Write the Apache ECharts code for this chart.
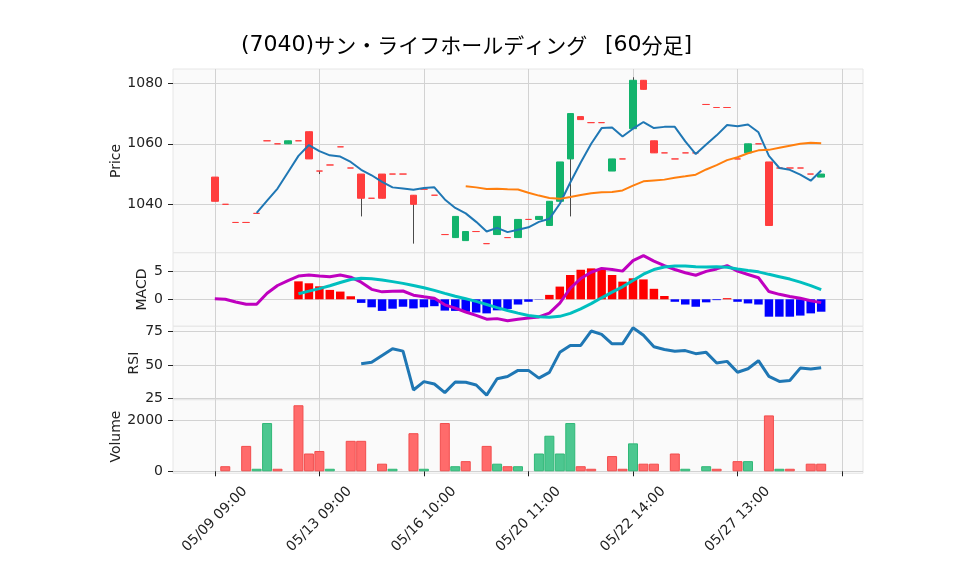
<!DOCTYPE html>
<html>
<head>
<meta charset="utf-8">
<script src="https://cdn.jsdelivr.net/npm/echarts@6/dist/echarts.min.js"></script>
<style>
html, body { margin: 0; padding: 0; background: #fff; }
#chart { width: 958px; height: 575px; }
</style>
</head>
<body>
<div id="chart"></div>
<script>
// 60-minute bars
const times = [
  '05/09 09:00','05/09 10:00','05/09 11:00','05/09 13:00','05/09 14:00',
  '05/10 09:00','05/10 10:00','05/10 11:00','05/10 13:00','05/10 14:00',
  '05/13 09:00','05/13 10:00','05/13 11:00','05/13 13:00','05/13 14:00',
  '05/14 09:00','05/14 10:00','05/14 13:00',
  '05/15 09:00','05/15 14:00',
  '05/16 10:00','05/16 11:00','05/16 13:00','05/16 14:00',
  '05/17 09:00','05/17 10:00','05/17 11:00','05/17 13:00','05/17 14:00',
  '05/20 09:00','05/20 11:00','05/20 13:00','05/20 14:00',
  '05/21 09:00','05/21 10:00','05/21 11:00','05/21 13:00','05/21 14:00',
  '05/22 09:00','05/22 10:00','05/22 14:00',
  '05/23 09:00','05/23 10:00','05/23 11:00','05/23 13:00','05/23 14:00',
  '05/24 09:00','05/24 10:00','05/24 13:00','05/24 14:00',
  '05/27 13:00','05/27 14:00',
  '05/28 09:00','05/28 10:00','05/28 11:00','05/28 13:00','05/28 14:00',
  '05/29 09:00','05/29 10:00'
]
const opens = [1049,1040,1034,1034,1037,1061,1060,1060,1061,1064,1051,1053,1059,1052,1050,1042,1050,1050,1050,1043,
  1045,1043,1030,1029,1028,1031,1027,1030,1029,1029,1035,1035,1033,1041,1055,1069,1067,1067,1051,1055,
  1065,1081,1061,1057,1055,1057,1057,1073,1072,1072,1055,1057,1060,1054,1052,1052,1052,1050,1049]
const closes = [1041,1040,1034,1034,1037,1061,1060,1061,1061,1055,1051,1053,1059,1052,1042,1042,1042,1050,1050,1040,
  1045,1043,1030,1036,1031,1031,1027,1036,1029,1035,1035,1036,1041,1054,1070,1068,1067,1067,1055,1055,
  1081,1078,1057,1057,1055,1057,1057,1073,1072,1072,1055,1060,1060,1033,1052,1052,1052,1050,1050]
const lows = [1041,1040,1034,1034,1037,1061,1060,1060,1061,1055,1050,1053,1059,1052,1036,1042,1042,1050,1050,1027,
  1045,1043,1030,1029,1028,1031,1027,1030,1029,1029,1035,1035,1033,1041,1036,1068,1067,1067,1051,1055,
  1065,1078,1057,1057,1055,1057,1057,1073,1072,1072,1055,1057,1060,1033,1052,1052,1052,1050,1049]
const highs = [1049,1040,1034,1034,1037,1061,1060,1061,1061,1064,1051,1053,1059,1052,1050,1042,1050,1050,1050,1043,
  1045,1043,1030,1036,1031,1031,1027,1036,1029,1035,1035,1036,1041,1054,1070,1069,1067,1067,1055,1055,
  1082,1081,1061,1057,1055,1057,1057,1073,1072,1072,1055,1060,1060,1054,1052,1052,1052,1050,1050]
const volumes = [0,200,0,1000,100,1900,100,0,2600,700,800,100,0,1200,1200,0,300,100,0,1500,
  100,0,1900,200,400,0,1000,300,200,200,0,700,1400,700,1900,200,100,0,600,100,
  1100,300,300,0,700,100,0,200,100,0,400,400,0,2200,100,100,0,300,300]
const ma5 = [null,null,null,null,1037.2,1041.2,1045.2,1050.6,1056.0,1059.6,1057.6,1056.2,1055.8,1054.0,1051.4,
  1049.6,1047.4,1045.6,1045.2,1044.8,1045.4,1045.6,1041.6,1038.8,1037.0,1034.2,1031.0,1032.2,1030.8,1031.6,
  1032.4,1034.2,1035.2,1040.2,1047.2,1053.8,1060.0,1065.2,1065.4,1062.4,1065.0,1067.2,1065.2,1065.6,1065.6,
  1060.8,1056.6,1059.8,1062.8,1066.2,1065.8,1066.4,1063.8,1056.0,1052.0,1051.4,1049.8,1047.8,1051.2]
const ma25 = [null,null,null,null,null,null,null,null,null,null,null,null,null,null,null,null,null,null,null,null,
  null,null,null,null,1046.0,1045.6,1045.08,1045.16,1044.96,1044.88,1043.84,1042.88,1042.08,1041.8,1042.4,
  1043.08,1043.64,1043.96,1044.08,1044.6,1046.16,1047.6,1047.88,1048.16,1048.76,1049.24,1049.8,1051.52,
  1052.96,1054.6,1055.56,1056.88,1057.84,1058.0,1058.68,1059.36,1060.0,1060.36,1060.2]
const macd = [0.1,0.0,-0.5,-0.9,-0.9,1.1,2.5,3.4,4.2,4.4,4.2,4.1,4.4,4.0,3.1,1.8,1.35,1.45,1.5,0.75,
  0.45,0.2,-1.0,-1.6,-2.3,-2.9,-3.6,-3.5,-3.9,-3.6,-3.4,-3.2,-2.5,-0.7,2.0,3.75,4.9,5.6,5.4,5.1,
  7.0,7.9,6.9,6.1,5.4,4.8,4.35,5.05,5.5,6.1,5.1,4.5,3.9,1.4,0.9,0.5,0.2,-0.25,-0.6]
const signal = [null,null,null,null,null,null,null,null,1.0,1.48,1.94,2.46,3.04,3.59,3.81,3.73,3.51,3.2,2.88,2.49,
  2.09,1.62,1.07,0.54,0.09,-0.38,-0.94,-1.5,-2.03,-2.5,-2.92,-3.17,-3.27,-3.09,-2.54,-1.73,-0.79,0.27,1.29,2.26,
  3.39,4.55,5.39,5.85,6.03,6.02,5.88,5.84,5.89,5.79,5.48,5.21,4.97,4.52,4.09,3.66,3.12,2.48,1.74]
const hist = [null,null,null,null,null,null,null,null,3.25,2.9,2.35,1.7,1.4,0.55,-0.65,-1.45,-2.1,-1.7,-1.35,-1.65,
  -1.45,-1.25,-2.05,-2.1,-2.25,-2.4,-2.55,-2.0,-1.75,-0.95,-0.45,-0.05,0.8,2.3,4.4,5.35,5.6,5.35,4.4,3.2,
  3.8,3.6,1.9,0.6,-0.45,-0.95,-1.35,-0.55,-0.15,0.2,-0.45,-0.75,-0.95,-3.15,-3.15,-3.15,-2.95,-2.55,-2.25]
const rsi = [null,null,null,null,null,null,null,null,null,null,null,null,null,null,51.0,52.0,57.0,62.0,60.3,31.5,
  37.7,35.9,29.5,37.4,37.2,35.2,27.7,39.8,41.5,46.0,46.0,40.3,44.5,59.4,64.5,64.5,75.2,72.7,65.7,65.7,
  77.6,72.0,63.5,61.5,60.2,60.7,58.4,59.4,51.5,52.7,44.6,47.2,53.2,41.6,37.8,38.5,47.7,47.0,48.0]

const priceTicks = [1040, 1060, 1080]
const macdTicks = [0, 5]
const rsiTicks = [25, 50, 75]
const volTicks = [0, 2000]

// latin and kana parts of the title, set in their own fonts
const titleParts = [['l', '(7040)'], ['j', 'サン・ライフホールディング'], ['s', '  '], ['l', '[60'], ['j', '分足'], ['l', ']']]

const UP = '#12b36c', DOWN = '#ff3d3d'
const VUP = '#4cc790', VUPB = '#30b877', VDOWN = '#ff6b6b', VDOWNB = '#f24d4d'

// empty slots either side so bar 0 and the right edge sit where matplotlib put them
const PAD = 4
const cats = [
  ...[0, 1, 2, 3].map(j => ' '.repeat(j + 1)),
  ...times,
  ...[4, 5, 6, 7].map(j => ' '.repeat(j + 1))
]
const k = i => i + PAD
const major = idx => idx >= PAD && (idx - PAD) % 10 === 0

const edges = [69, 252.8, 326.3, 399.8, 473.3]
const grids = [0, 1, 2, 3].map(g => ({
  left: 173, right: 95, top: edges[g], height: edges[g + 1] - edges[g],
  show: true, backgroundColor: '#fafafa', borderColor: '#e6e6e6', borderWidth: 1,
  outerBoundsMode: 'none'
}))

const font = { fontFamily: 'DejaVu Sans', fontSize: 14, color: '#222' }
const gridLine = { show: true, lineStyle: { color: '#d2d2d2', width: 1 } }

const xAxes = [0, 1, 2, 3].map(g => ({
  type: 'category', gridIndex: g, data: cats, boundaryGap: false,
  axisLine: { show: false },
  axisTick: { show: g === 3, interval: major, length: 5, lineStyle: { color: '#222' } },
  axisLabel: {
    show: g === 3, interval: major, rotate: 45, align: 'center', verticalAlign: 'middle',
    margin: 46, ...font
  },
  splitLine: { ...gridLine, interval: major }
}))

function yAxisOf(g, min, max, ticks, name, gap) {
  return {
    type: 'value', gridIndex: g, min, max, name, nameLocation: 'middle', nameGap: gap,
    nameMoveOverlap: false,
    nameTextStyle: font,
    axisLine: { show: false },
    axisTick: { show: true, length: 5, lineStyle: { color: '#222' }, customValues: ticks },
    axisLabel: { ...font, margin: 10, customValues: ticks, formatter: v => String(v) },
    splitLine: gridLine
  }
}

const yAxes = [
  yAxisOf(0, 1023.97, 1084.73, priceTicks, 'Price', 50),
  yAxisOf(1, -4.89, 8.42, macdTicks, 'MACD', 24),
  yAxisOf(2, 24.2, 78.7, rsiTicks, 'RSI', 32),
  yAxisOf(3, -79, 2815, volTicks, 'Volume', 50)
]

const pairs = arr => arr.map((v, i) => [k(i), v]).filter(p => p[1] != null)

const bodies = times.map((t, i) => {
  const c = closes[i] > opens[i] ? UP : DOWN
  return {
    value: [k(i), opens[i], closes[i], Math.min(opens[i], closes[i]), Math.max(opens[i], closes[i])],
    itemStyle: { color: c, color0: c, borderColor: c, borderColor0: c, borderColorDoji: c, borderWidth: 1 }
  }
})

const volBars = times.map((t, i) => {
  const up = i > 0 && closes[i] > closes[i - 1]
  return {
    value: [k(i), volumes[i]],
    itemStyle: { color: up ? VUP : VDOWN, borderColor: up ? VUPB : VDOWNB, borderWidth: 1 }
  }
}).filter(d => d.value[1] > 0)

const histBars = hist.map((v, i) => v == null ? null : {
  value: [k(i), v], itemStyle: { color: v >= 0 ? '#ff0000' : '#0000ff' }
}).filter(d => d)

const line = (xi, data, color, width) => ({
  type: 'line', xAxisIndex: xi, yAxisIndex: xi, data: pairs(data),
  symbol: 'none', lineStyle: { color, width }, itemStyle: { color }
})

const tok = (family, size) => ({ fontFamily: family, fontSize: size, lineHeight: 26, color: '#000', verticalAlign: 'middle' })

const chart = echarts.init(document.getElementById('chart'))
chart.setOption({
  animation: false,
  backgroundColor: '#fff',
  title: {
    text: titleParts.map(p => '{' + p[0] + '|' + p[1] + '}').join(''),
    left: 241, top: 32, padding: 0,
    textStyle: {
      color: '#000', fontWeight: 'normal', lineHeight: 26,
      rich: {
        l: tok('DejaVu Sans', 22),
        j: tok('Noto Sans CJK JP', 21),
        s: tok('DejaVu Sans', 28)
      }
    }
  },
  grid: grids,
  xAxis: xAxes,
  yAxis: yAxes,
  series: [
    {
      type: 'custom', xAxisIndex: 0, yAxisIndex: 0,
      data: times.map((t, i) => [k(i), lows[i], highs[i]]),
      encode: { x: 0, y: [1, 2] },
      renderItem: (params, api) => {
        const a = api.coord([api.value(0), api.value(1)])
        const b = api.coord([api.value(0), api.value(2)])
        const x = Math.round(a[0]) + 0.5
        return { type: 'line', shape: { x1: x, y1: a[1], x2: x, y2: b[1] }, style: { stroke: '#4a4a4a', lineWidth: 1 } }
      }
    },
    {
      type: 'candlestick', xAxisIndex: 0, yAxisIndex: 0, barWidth: 7,
      encode: { x: 0, y: [1, 2, 3, 4] },
      data: bodies
    },
    line(0, ma5, '#1f77b4', 2),
    line(0, ma25, '#ff7f0e', 2),
    { type: 'bar', xAxisIndex: 1, yAxisIndex: 1, barWidth: 8.5, data: histBars },
    line(1, macd, '#bf00bf', 3),
    line(1, signal, '#00bfbf', 3),
    line(2, rsi, '#1f77b4', 3),
    { type: 'bar', xAxisIndex: 3, yAxisIndex: 3, barWidth: 10, data: volBars }
  ]
})
window.addEventListener('resize', () => chart.resize())
</script>
</body>
</html>
